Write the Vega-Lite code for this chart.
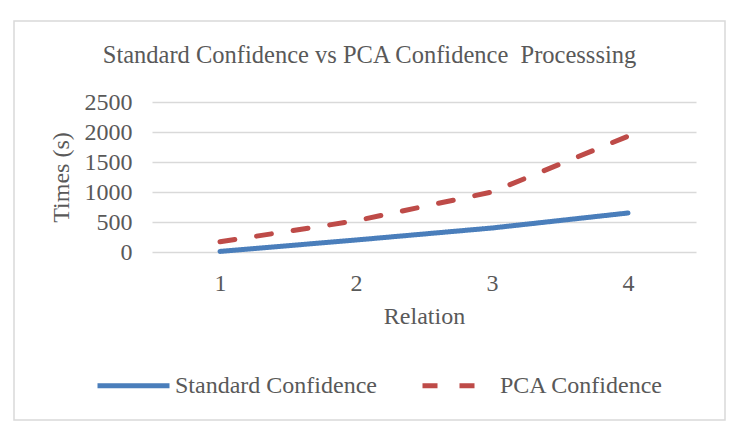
{
  "$schema": "https://vega.github.io/schema/vega-lite/v6.json",
  "width": 711,
  "height": 399,
  "autosize": {"type": "none"},
  "padding": {"left": 14, "top": 21, "right": 12, "bottom": 12},
  "background": "white",
  "config": {
    "font": "Liberation Serif",
    "view": {"stroke": "#d9d9d9", "strokeWidth": 1.5}
  },
  "title": {
    "text": "Standard Confidence vs PCA Confidence \u00a0Processsing",
    "frame": "group",
    "anchor": "middle",
    "offset": -47,
    "fontSize": 24.5,
    "fontWeight": "normal",
    "color": "#595959"
  },
  "data": {
    "values": [
      {"Relation": 1, "Series": "Standard Confidence", "Time": 10},
      {"Relation": 2, "Series": "Standard Confidence", "Time": 200},
      {"Relation": 3, "Series": "Standard Confidence", "Time": 400},
      {"Relation": 4, "Series": "Standard Confidence", "Time": 650},
      {"Relation": 1, "Series": "PCA Confidence", "Time": 170},
      {"Relation": 2, "Series": "PCA Confidence", "Time": 520},
      {"Relation": 3, "Series": "PCA Confidence", "Time": 1000},
      {"Relation": 4, "Series": "PCA Confidence", "Time": 1930}
    ]
  },
  "mark": {"type": "line", "strokeWidth": 5, "strokeCap": "round", "strokeJoin": "round"},
  "encoding": {
    "x": {
      "field": "Relation",
      "type": "ordinal",
      "scale": {"type": "point", "range": [138, 682], "padding": 0.5},
      "axis": {
        "offset": -168,
        "domain": false,
        "ticks": false,
        "grid": false,
        "labelAngle": 0,
        "labelPadding": 19,
        "labelFontSize": 24,
        "labelColor": "#595959",
        "title": "Relation",
        "titleFontSize": 24,
        "titleFontWeight": "normal",
        "titleColor": "#595959",
        "titlePadding": 9
      }
    },
    "y": {
      "field": "Time",
      "type": "quantitative",
      "scale": {"domain": [0, 2500], "range": [231, 81], "nice": false},
      "axis": {
        "values": [0, 500, 1000, 1500, 2000, 2500],
        "format": "d",
        "offset": -138,
        "labelPadding": 20,
        "domain": false,
        "ticks": false,
        "grid": true,
        "gridColor": "#d9d9d9",
        "gridWidth": 1.5,
        "labelFontSize": 24,
        "labelColor": "#595959",
        "title": "Times (s)",
        "titleFontSize": 24,
        "titleFontWeight": "normal",
        "titleColor": "#595959",
        "titlePadding": 11
      }
    },
    "color": {
      "field": "Series",
      "type": "nominal",
      "scale": {"domain": ["Standard Confidence", "PCA Confidence"], "range": ["#4a7ebb", "#be4b48"]},
      "legend": {
        "orient": "none",
        "legendX": 81,
        "legendY": 326,
        "direction": "horizontal",
        "title": null,
        "symbolType": "stroke",
        "symbolSize": 5184,
        "symbolStrokeWidth": 5,
        "labelFontSize": 24,
        "labelLimit": 400,
        "labelColor": "#595959",
        "labelOffset": 3,
        "columnPadding": 35,
        "padding": 0
      }
    },
    "strokeDash": {
      "field": "Series",
      "type": "nominal",
      "scale": {"domain": ["Standard Confidence", "PCA Confidence"], "range": [[1, 0], [15, 22]]},
      "legend": {
        "orient": "none",
        "legendX": 81,
        "legendY": 326,
        "direction": "horizontal",
        "title": null,
        "symbolType": "stroke",
        "symbolSize": 5184,
        "symbolStrokeWidth": 5,
        "labelFontSize": 24,
        "labelLimit": 400,
        "labelColor": "#595959",
        "labelOffset": 3,
        "columnPadding": 35,
        "padding": 0
      }
    }
  }
}
